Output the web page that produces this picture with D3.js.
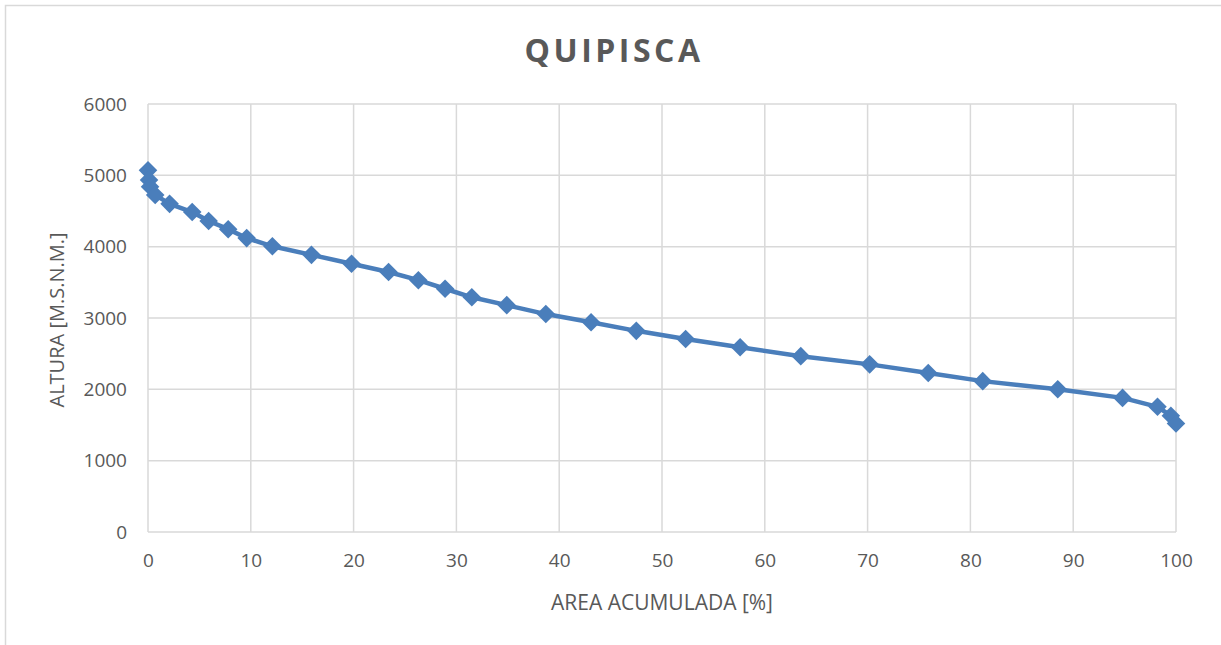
<!DOCTYPE html>
<html><head><meta charset="utf-8">
<script src="https://cdn.jsdelivr.net/npm/d3@7"></script>
<style>body{margin:0;background:#fff}svg{display:block}text{font-family:"Open Sans","Liberation Sans",sans-serif;fill:#595959}</style>
</head><body>
<script>
const areaPct = [0,0.1,0.2,0.7,2.1,4.3,5.9,7.8,9.6,12.1,15.9,19.8,23.4,26.3,28.9,31.5,34.9,38.7,43.1,47.5,52.3,57.6,63.5,70.2,75.9,81.2,88.5,94.8,98.2,99.5,100];
const altura = [5070,4935,4840,4725,4600,4485,4360,4245,4120,4005,3885,3760,3645,3530,3410,3290,3180,3055,2940,2820,2705,2590,2465,2350,2230,2115,2000,1880,1755,1630,1520];
const xTicks = [0,10,20,30,40,50,60,70,80,90,100];
const yTicks = [0,1000,2000,3000,4000,5000,6000];
const title = "QUIPISCA", xTitle = "AREA ACUMULADA [%]", yTitle = "ALTURA [M.S.N.M.]";

const W=1221,H=645;
const svg=d3.select("body").append("svg").attr("width",W).attr("height",H);
svg.append("rect").attr("x",5.5).attr("y",5.5).attr("width",W+10).attr("height",H+10).attr("fill","none").attr("stroke","#d9d9d9").attr("stroke-width",1.5);
const L=148,R=1176,T=104,B=532;
const x=d3.scaleLinear().domain([0,100]).range([L,R]);
const y=d3.scaleLinear().domain([0,6000]).range([B,T]);
const grid=svg.append("g").attr("stroke","#d9d9d9").attr("stroke-width",1.5);
xTicks.forEach(t=>grid.append("line").attr("x1",x(t)).attr("x2",x(t)).attr("y1",T).attr("y2",B));
yTicks.forEach(t=>grid.append("line").attr("x1",L).attr("x2",R).attr("y1",y(t)).attr("y2",y(t)));
const xa=svg.append("g").attr("transform",`translate(0,${B})`).call(d3.axisBottom(x).tickValues(xTicks).tickSize(0).tickPadding(22));
const ya=svg.append("g").attr("transform",`translate(${L},0)`).call(d3.axisLeft(y).tickValues(yTicks).tickSize(0).tickPadding(21).tickFormat(d3.format("d")));
[xa,ya].forEach(a=>{a.select(".domain").remove();a.selectAll("text").attr("font-size",19).style("fill","#595959").attr("font-family","'Open Sans',sans-serif");});
const data=areaPct.map((d,i)=>[d,altura[i]]);
svg.append("path").datum(data).attr("fill","none").attr("stroke","#4a7ebb").attr("stroke-width",4.5).attr("stroke-linejoin","round")
 .attr("d",d3.line().x(d=>x(d[0])).y(d=>y(d[1])));
svg.append("g").selectAll("path").data(data).join("path").attr("fill","#4a7ebb")
 .attr("transform",d=>`translate(${x(d[0])},${y(d[1])})`).attr("d",d3.symbol(d3.symbolDiamond2,220)());
svg.append("text").attr("x",614).attr("y",62).attr("text-anchor","middle").attr("font-size",32).attr("font-weight","bold").attr("letter-spacing",3.5).text(title);
svg.append("text").attr("x",662).attr("y",610).attr("text-anchor","middle").attr("font-size",21).text(xTitle);
svg.append("text").attr("transform","translate(64,320) rotate(-90)").attr("text-anchor","middle").attr("font-size",20).text(yTitle);
</script>
</body></html>
